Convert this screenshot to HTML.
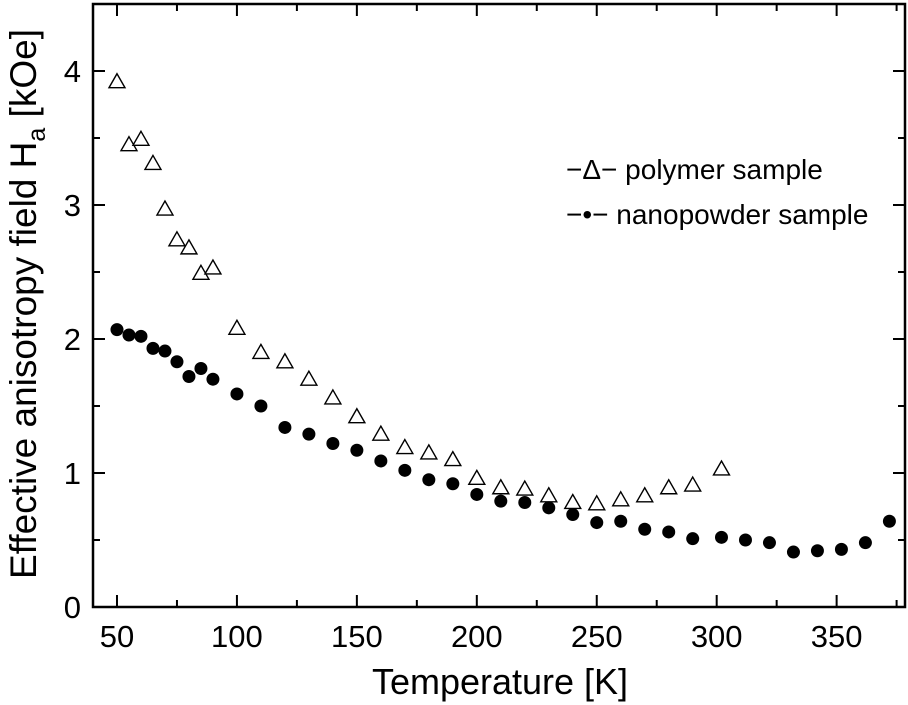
<!DOCTYPE html>
<html><head><meta charset="utf-8"><style>
body{margin:0;background:#fff}
svg{display:block;font-family:"Liberation Sans",Arial,sans-serif}
</style></head><body>
<svg id="chart" width="908" height="705" viewBox="0 0 908 705">
<g id="marks"></g>
<g id="axes"></g>
<text x="500" y="694" font-size="36" text-anchor="middle">Temperature [K]</text>
<text transform="translate(36,304) rotate(-90)" font-size="37" text-anchor="middle">Effective anisotropy field H<tspan font-size="25" dy="9">a</tspan><tspan dy="-9"> [kOe]</tspan></text>
<g>
<text x="566" y="179" font-size="28">−Δ−  polymer sample</text>
<text x="566" y="224" font-size="28">−•−  nanopowder sample</text>
</g>
</svg>
<script>
const polyT=[50,55,60,65,70,75,80,85,90,100,110,120,130,140,150,160,170,180,190,200,210,220,230,240,250,260,270,280,290,302];
const polyH=[3.92,3.45,3.49,3.31,2.97,2.74,2.68,2.49,2.53,2.08,1.90,1.83,1.70,1.56,1.42,1.29,1.19,1.15,1.10,0.96,0.89,0.88,0.83,0.78,0.77,0.80,0.83,0.89,0.91,1.03];
const nanoT=[50,55,60,65,70,75,80,85,90,100,110,120,130,140,150,160,170,180,190,200,210,220,230,240,250,260,270,280,290,302,312,322,332,342,352,362,372];
const nanoH=[2.07,2.03,2.02,1.93,1.91,1.83,1.72,1.78,1.70,1.59,1.50,1.34,1.29,1.22,1.17,1.09,1.02,0.95,0.92,0.84,0.79,0.78,0.74,0.69,0.63,0.64,0.58,0.56,0.51,0.52,0.50,0.48,0.41,0.42,0.43,0.48,0.64];
const xTicks=[50,100,150,200,250,300,350];
const yTicks=[0,1,2,3,4];
const X0=40,X1=378.5,Y0=0,Y1=4.5;
const L=93,R=905,T=4,B=607;
const sx=v=>L+(v-X0)/(X1-X0)*(R-L);
const sy=v=>B-(v-Y0)/(Y1-Y0)*(B-T);
const NS="http://www.w3.org/2000/svg";
function mk(tag,attrs,parent){const e=document.createElementNS(NS,tag);for(const k in attrs)e.setAttribute(k,attrs[k]);parent.appendChild(e);return e;}
const axes=document.getElementById('axes'),marks=document.getElementById('marks');
const frame=mk('rect',{x:L,y:T,width:R-L,height:B-T,fill:'none',stroke:'#000','stroke-width':2.5},axes);


for(let v=50;v<=375;v+=25){const x=sx(v),len=v%50===0?12:7;
 const t=mk('path',{d:`M${x},${B}V${B-len}M${x},${T}V${T+len}`,stroke:'#000','stroke-width':2},axes);
 
 }
for(let v=0;v<=4.5;v+=0.5){const y=sy(v),len=Number.isInteger(v)?12:7;
 const t=mk('path',{d:`M${L},${y}H${L+len}M${R},${y}H${R-len}`,stroke:'#000','stroke-width':2},axes);
 
 }
xTicks.forEach(v=>{const t=mk('text',{x:sx(v),y:647,'font-size':31,'text-anchor':'middle'},axes);t.textContent=v;
 
 });
yTicks.forEach(v=>{const t=mk('text',{x:81,y:sy(v)+11,'font-size':31,'text-anchor':'end'},axes);t.textContent=v;
 
 });
polyT.forEach((t,i)=>{const x=sx(t),y=sy(polyH[i]);
 const p=mk('path',{d:`M${x},${y-8}L${x+8},${y+6}L${x-8},${y+6}Z`,fill:'#fff',stroke:'#000','stroke-width':1.4},marks);
 
 });
nanoT.forEach((t,i)=>{
 const c=mk('circle',{cx:sx(t),cy:sy(nanoH[i]),r:6.5,fill:'#000'},marks);
 
 });
</script>
</body></html>
